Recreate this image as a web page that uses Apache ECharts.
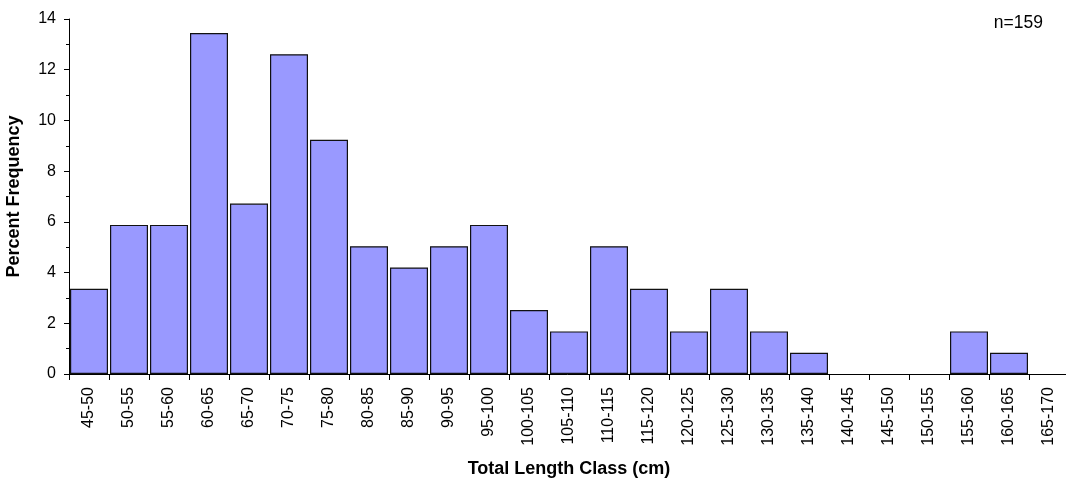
<!DOCTYPE html>
<html><head><meta charset="utf-8">
<script src="https://cdn.jsdelivr.net/npm/echarts@6/dist/echarts.min.js"></script>
<style>html,body{margin:0;padding:0;background:#fff}#c{width:1066px;height:480px}</style>
</head><body><div id="c"></div>
<script>
var categories = ["45-50","50-55","55-60","60-65","65-70","70-75","75-80","80-85","85-90","90-95","95-100","100-105","105-110","110-115","115-120","120-125","125-130","130-135","135-140","140-145","145-150","150-155","155-160","160-165","165-170"];
var percentFrequency = [3.36,5.88,5.88,13.45,6.72,12.61,9.24,5.04,4.20,5.04,5.88,2.52,1.68,5.04,3.36,1.68,3.36,1.68,0.84,0,0,0,1.68,0.84,0];
var yTicks = [0,2,4,6,8,10,12,14];
var chart = echarts.init(document.getElementById('c'));
var font = 'Liberation Sans, Arial, sans-serif';
chart.setOption({
  animation:false,
  grid:{left:69,right:-3,top:19,bottom:106,containLabel:false,outerBoundsMode:'none'},
  graphic:[{type:'text',right:23,top:14,style:{text:'n=159',font:'17.5px '+font,fill:'#000'}}],
  xAxis:{type:'category',data:categories,
    name:'Total Length Class (cm)',nameLocation:'middle',nameGap:86,
    nameTextStyle:{fontFamily:font,fontSize:18,fontWeight:'bold',color:'#000'},
    axisLine:{lineStyle:{color:'#000',width:1}},
    axisTick:{show:true,length:6,lineStyle:{color:'#000'}},
    axisLabel:{rotate:90,fontFamily:font,fontSize:16,color:'#000',margin:13,interval:0}},
  yAxis:{type:'value',min:yTicks[0],max:yTicks[yTicks.length-1],interval:2,
    name:'Percent Frequency',nameLocation:'middle',nameGap:46,
    nameTextStyle:{fontFamily:font,fontSize:18,fontWeight:'bold',color:'#000'},
    axisLine:{show:true,lineStyle:{color:'#000'}},
    axisTick:{show:true,length:5,lineStyle:{color:'#000'}},
    minorTick:{show:true,splitNumber:2,length:3,lineStyle:{color:'#000'}},
    splitLine:{show:false},
    axisLabel:{fontFamily:font,fontSize:16,color:'#000',margin:13}},
  series:[{type:'bar',data:percentFrequency.map(function(v){return v===0?'-':v;}),barCategoryGap:'5%',
    itemStyle:{color:'#9999FF',borderColor:'#111',borderWidth:1.2}}]
});
</script></body></html>
